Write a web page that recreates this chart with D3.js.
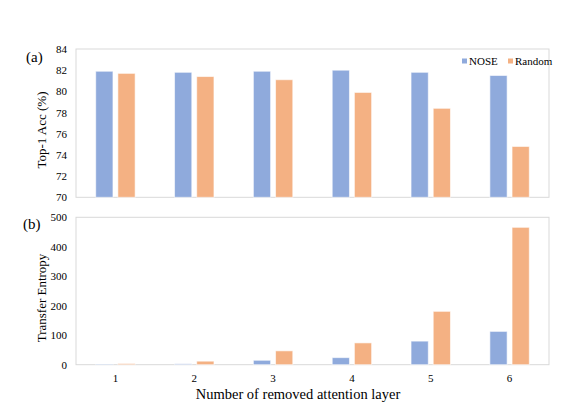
<!DOCTYPE html>
<html><head><meta charset="utf-8">
<script src="https://cdn.jsdelivr.net/npm/d3@7"></script>
<style>body{margin:0;background:#fff}svg{display:block}</style>
</head><body>
<svg id="c" width="573" height="406"></svg>
<script>
const categories = ["1","2","3","4","5","6"];
const seriesNames = ["NOSE","Random"];
const accNOSE = [81.9, 81.8, 81.9, 82.0, 81.8, 81.5];
const accRandom = [81.7, 81.4, 81.1, 79.9, 78.4, 74.8];
const teNOSE = [2, 3, 15, 24, 80, 113];
const teRandom = [4, 12, 47, 74, 181, 466];
const accTicks = [70,72,74,76,78,80,82,84];
const teTicks = [0,100,200,300,400,500];
const colors = {NOSE:"#8FAADC", Random:"#F4B183"};
const FONT = "'Liberation Serif', 'Times New Roman', 'DejaVu Serif', serif";

const svg = d3.select("#c");
const L = 76, R = 549;
const x0 = d3.scaleBand().domain(categories).range([L, R]);
const x1 = d3.scaleBand().domain(seriesNames).range([x0.bandwidth()*0.25, x0.bandwidth()*0.75]).paddingInner(0.222);

function txt(sel){ return sel.attr("font-family", FONT).attr("fill","#000"); }

function panel(top, bottom, domain, ticks, sNose, sRand, ylabel, labelY, tag, tagX, tagY) {
  const y = d3.scaleLinear().domain(domain).range([bottom, top]);
  svg.append("rect").attr("x", L).attr("y", top).attr("width", R-L).attr("height", bottom-top)
    .attr("fill","none").attr("stroke","#d9d9d9").attr("stroke-width",1);
  const ax = svg.append("g").attr("transform",`translate(${L},0)`)
    .call(d3.axisLeft(y).tickValues(ticks).tickSize(0).tickPadding(9));
  ax.attr("font-family", FONT).attr("font-size", 11);
  ax.select(".domain").remove();
  ax.selectAll("text").attr("fill","#000");
  const rows = categories.map((c,i)=>({c, v:[{k:"NOSE",v:sNose[i]},{k:"Random",v:sRand[i]}]}));
  const g = svg.append("g");
  g.selectAll("g").data(rows).join("g").attr("transform", d=>`translate(${x0(d.c)},0)`)
    .selectAll("rect").data(d=>d.v).join("rect")
    .attr("x", d=>x1(d.k)).attr("width", x1.bandwidth())
    .attr("y", d=>y(d.v)).attr("height", d=>y(domain[0])-y(d.v))
    .attr("fill", d=>colors[d.k]).attr("stroke","#fff").attr("stroke-opacity",0.6).attr("stroke-width",1);
  txt(svg.append("text")).attr("transform",`translate(46,${labelY}) rotate(-90)`)
    .attr("text-anchor","middle").attr("font-size",13).text(ylabel);
  txt(svg.append("text")).attr("x",tagX).attr("y",tagY).attr("font-size",15).text(tag);
  return y;
}
panel(49, 197.3, [70,84], accTicks, accNOSE, accRandom, "Top-1 Acc (%)", 130, "(a)", 26, 62);
panel(217.3, 364.7, [0,500], teTicks, teNOSE, teRandom, "Transfer Entropy", 298, "(b)", 23, 229);

txt(svg.append("g").selectAll("text").data(categories).join("text"))
  .attr("x", d=>x0(d)+x0.bandwidth()/2).attr("y", 382).attr("text-anchor","middle")
  .attr("font-size",11).text(d=>d);
txt(svg.append("text")).attr("x", 298).attr("y", 399).attr("text-anchor","middle")
  .attr("font-size",14.5).text("Number of removed attention layer");

const lg = svg.append("g");
const lx = [462, 508];
seriesNames.forEach((s,i)=>{
  lg.append("rect").attr("x", lx[i]).attr("y", 58.5).attr("width",5).attr("height",5).attr("fill",colors[s]);
  txt(lg.append("text")).attr("x", lx[i]+7).attr("y", 64.5).attr("font-size",11).text(s);
});
</script>
</body></html>
